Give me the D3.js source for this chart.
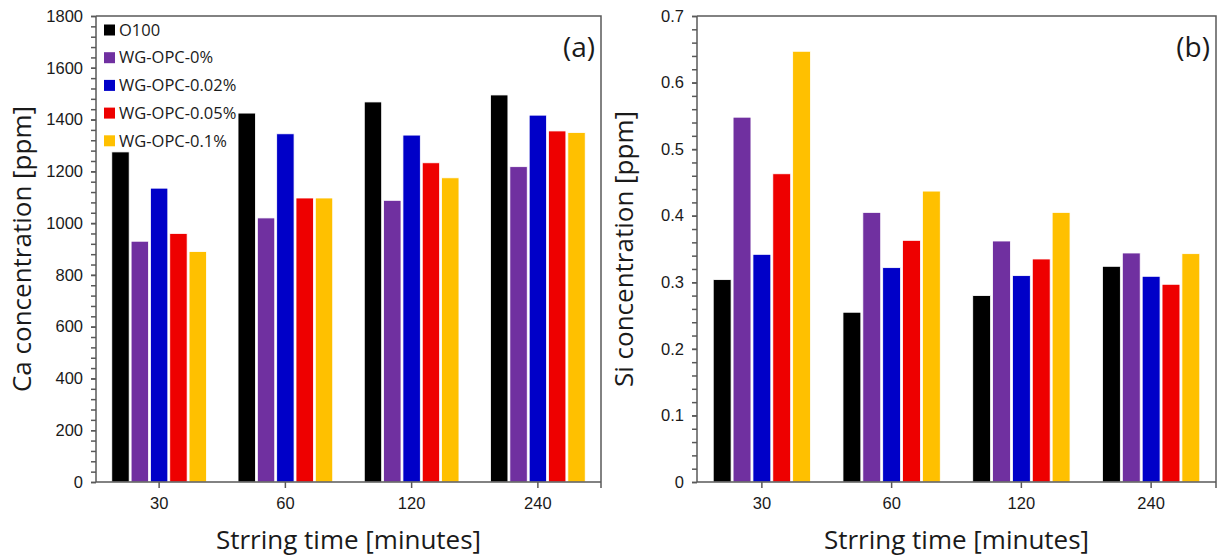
<!DOCTYPE html>
<html>
<head>
<meta charset="utf-8">
<script src="https://cdn.jsdelivr.net/npm/d3@7"></script>
<style>
  body { margin: 0; background: #fff; }
  svg { display: block; font-family: "Open Sans", sans-serif; }
  .axis path, .axis line { stroke: #595959; stroke-width: 1.5; }
  .axis text { fill: #1a1a1a; font-size: 16.5px; }
  .axis-title { font-size: 26px; fill: #1a1a1a; }
  .legend text { font-size: 16.5px; fill: #1a1a1a; }
</style>
</head>
<body>
<svg id="chart"></svg>
<script>
// categories and series
const times = ['30', '60', '120', '240'];
const seriesNames = ['O100', 'WG-OPC-0%', 'WG-OPC-0.02%', 'WG-OPC-0.05%', 'WG-OPC-0.1%'];
const seriesColors = ['#000000', '#7030a0', '#0000c8', '#ee0000', '#ffc000'];

// panel (a): Ca concentration [ppm]
const caO100 = [1275, 1425, 1468, 1495];
const caWg0 = [930, 1020, 1088, 1218];
const caWg002 = [1135, 1345, 1340, 1417];
const caWg005 = [960, 1097, 1233, 1356];
const caWg01 = [890, 1097, 1175, 1350];
const caTicks = [0, 200, 400, 600, 800, 1000, 1200, 1400, 1600, 1800];

// panel (b): Si concentration [ppm]
const siO100 = [0.304, 0.255, 0.280, 0.324];
const siWg0 = [0.548, 0.405, 0.362, 0.344];
const siWg002 = [0.342, 0.322, 0.310, 0.309];
const siWg005 = [0.463, 0.363, 0.335, 0.297];
const siWg01 = [0.647, 0.437, 0.405, 0.343];
const siTicks = [0, 0.1, 0.2, 0.3, 0.4, 0.5, 0.6, 0.7];

const svg = d3.select('#chart')
    .attr('width', 1228)
    .attr('height', 559);

function drawPanel(cfg) {
    const left = cfg.left, right = cfg.right, top = 16, bottom = 482;
    const g = svg.append('g');

    const maxTick = cfg.ticks[cfg.ticks.length - 1];
    const yScale = d3.scaleLinear()
        .domain([0, maxTick])
        .range([bottom, top]);

    const x0 = d3.scaleBand()
        .domain(times)
        .range([left, right]);

    const groupW = x0.bandwidth() * 0.75;
    const x1 = d3.scaleBand()
        .domain(seriesNames)
        .range([0, groupW])
        .paddingInner(0.1);

    // table built from the series arrays
    const rows = [];
    times.forEach((t, i) => {
        cfg.series.forEach((arr, j) => {
            rows.push({ time: t, name: seriesNames[j], color: seriesColors[j], value: arr[i] });
        });
    });

    g.selectAll('.bar')
        .data(rows)
        .enter()
        .append('rect')
        .attr('class', 'bar')
        .attr('x', d => x0(d.time) + (x0.bandwidth() - groupW) / 2 + x1(d.name))
        .attr('width', x1.bandwidth())
        .attr('y', d => yScale(d.value))
        .attr('height', d => yScale(0) - yScale(d.value))
        .attr('fill', d => d.color)
        .attr('stroke', '#ffffff')
        .attr('stroke-width', 0.8);

    // frame top and right
    g.append('path')
        .attr('d', `M${left},${top}H${right}V${bottom}`)
        .attr('fill', 'none')
        .attr('stroke', '#595959')
        .attr('stroke-width', 1.5);

    // minor y ticks
    const step = cfg.ticks[1] - cfg.ticks[0];
    const minor = d3.range(0, 5 * cfg.ticks.length - 4).map(k => k * step / 5);
    g.append('g')
        .attr('class', 'axis')
        .attr('transform', `translate(${left},0)`)
        .call(d3.axisLeft(yScale).tickValues(minor).tickSize(5).tickFormat(''))
        .call(a => a.select('.domain').remove());

    // major y ticks
    g.append('g')
        .attr('class', 'axis')
        .attr('transform', `translate(${left},0)`)
        .call(d3.axisLeft(yScale).tickValues(cfg.ticks).tickSize(5).tickPadding(8).tickFormat(cfg.format))
        .call(a => a.select('.domain').attr('d', `M0,${top}V${bottom}`));

    // x axis
    const xAxisG = g.append('g')
        .attr('class', 'axis')
        .attr('transform', `translate(0,${bottom})`)
        .call(d3.axisBottom(x0).tickSize(6).tickPadding(9))
        .call(a => a.select('.domain').attr('d', `M${left},0H${right}`));
    xAxisG.append('line')
        .attr('x1', right).attr('x2', right)
        .attr('y1', 0).attr('y2', 6);

    // axis titles
    g.append('text')
        .attr('class', 'axis-title')
        .attr('x', (left + right) / 2)
        .attr('y', 549)
        .attr('text-anchor', 'middle')
        .text('Strring time [minutes]');

    g.append('text')
        .attr('class', 'axis-title')
        .attr('transform', `translate(${cfg.titleX},${(top + bottom) / 2}) rotate(-90)`)
        .attr('text-anchor', 'middle')
        .text(cfg.yTitle);

    // panel label
    g.append('text')
        .attr('x', right - 6)
        .attr('y', 57)
        .attr('text-anchor', 'end')
        .style('font-size', '28px')
        .style('fill', '#1a1a1a')
        .text(cfg.label);

    return g;
}

const panelA = drawPanel({
    left: 96, right: 601,
    ticks: caTicks, format: d3.format('d'),
    series: [caO100, caWg0, caWg002, caWg005, caWg01],
    yTitle: 'Ca concentration [ppm]', titleX: 31, label: '(a)'
});

drawPanel({
    left: 697, right: 1216,
    ticks: siTicks, format: d => d === 0 ? '0' : d3.format('.1f')(d),
    series: [siO100, siWg0, siWg002, siWg005, siWg01],
    yTitle: 'Si concentration [ppm]', titleX: 633, label: '(b)'
});

// legend in panel (a)
const legend = panelA.append('g').attr('class', 'legend');
const legendItems = legend.selectAll('g')
    .data(seriesNames)
    .enter()
    .append('g')
    .attr('transform', (d, i) => `translate(104,${30 + i * 27.7})`);
legendItems.append('rect')
    .attr('x', 0).attr('y', -5.5)
    .attr('width', 11).attr('height', 11)
    .attr('fill', (d, i) => seriesColors[i]);
legendItems.append('text')
    .attr('x', 15)
    .attr('dy', '0.35em')
    .text(d => d);
</script>
</body>
</html>
